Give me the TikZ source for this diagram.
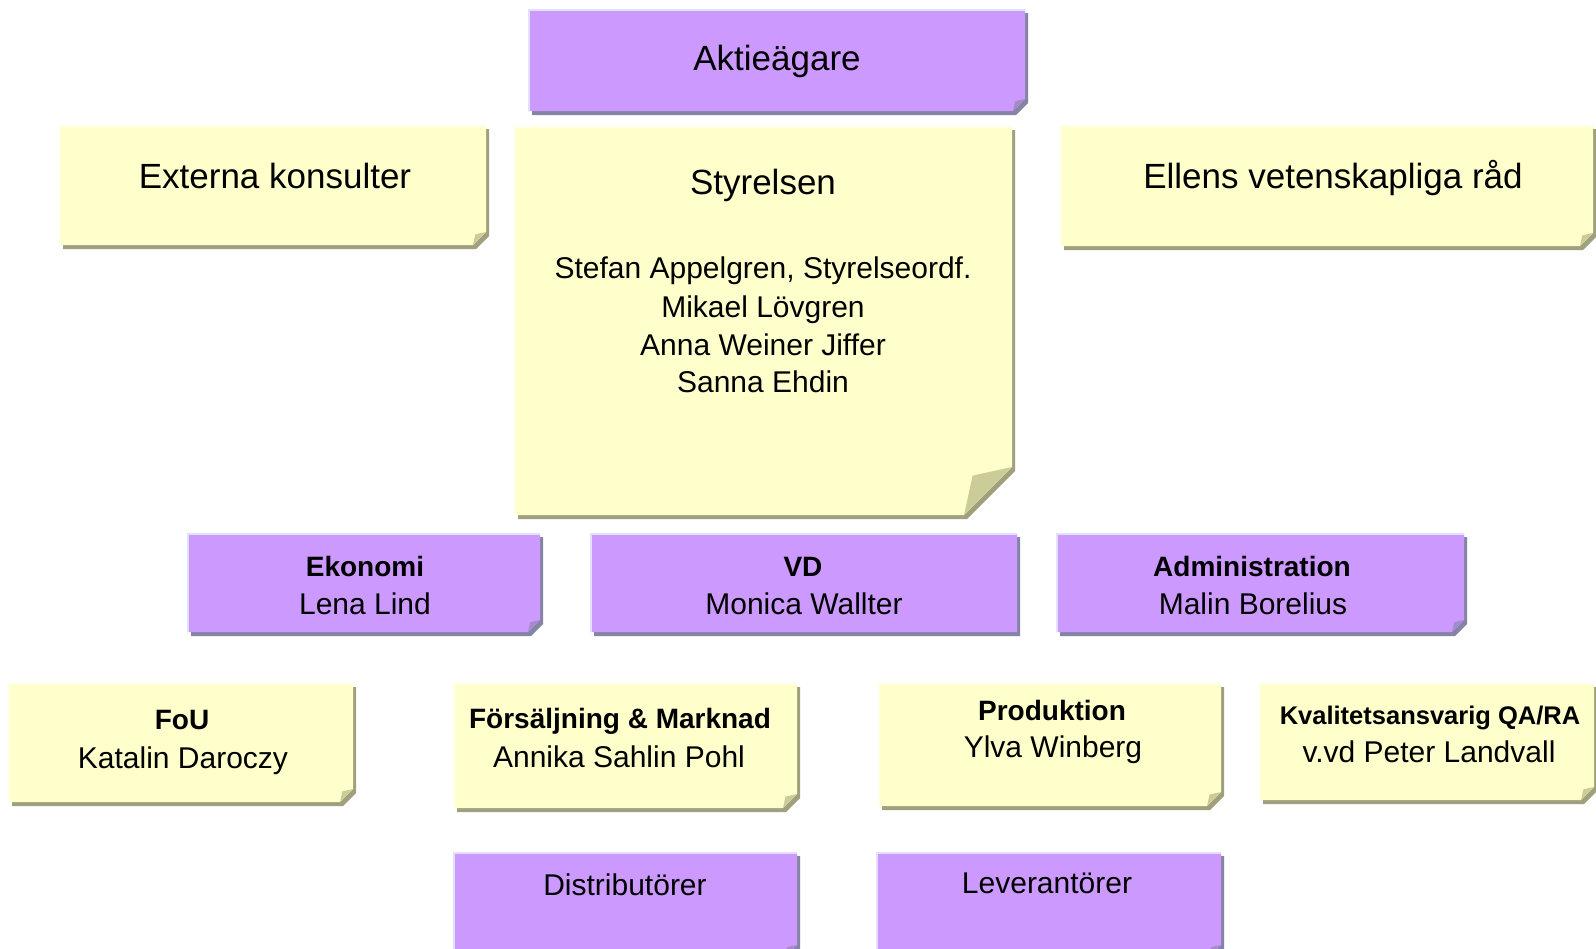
\documentclass[tikz,border=0pt]{standalone}
\usepackage{fontspec}
\setmainfont{Liberation Sans}
\definecolor{pfill}{HTML}{CC99FF}
\definecolor{pshadow}{HTML}{8484A4}
\definecolor{pfold}{HTML}{A58CC8}
\definecolor{pedge}{HTML}{E2E0FF}
\definecolor{yfill}{HTML}{FFFFCC}
\definecolor{yshadow}{HTML}{A0A07E}
\definecolor{yfold}{HTML}{CCCC99}
\definecolor{yedge}{HTML}{FFFFE6}
\newcommand\fsz[1]{\fontsize{#1}{#1}\selectfont}
% #1 x1, #2 y1, #3 x2, #4 y2, #5 fold size, #6 fill, #7 shadow, #8 fold colour, #9 edge colour
\newcommand\notebox[9]{%
  \fill[#7] (#1+4,#2+4) -- (#3+3,#2+4) -- (#3+3,#4+4-#5) -- (#3+3-#5,#4+4) -- (#1+4,#4+4) -- cycle;
  \fill[#6] (#1,#2) -- (#3,#2) -- (#3,#4-#5) -- (#3-#5,#4) -- (#1,#4) -- cycle;
  \fill[#8] (#3,#4-#5) -- (#3-#5,#4) -- (#3-0.82*#5,#4-0.82*#5) -- cycle;
  \draw[#9, line width=2.5] (#1+1,#4) -- (#1+1,#2+1) -- (#3,#2+1);
}
\tikzset{
  txt/.style={anchor=base, inner sep=0pt, outer sep=0pt, text=black},
  big/.style={txt, font=\fsz{35}},
  mid/.style={txt, font=\fsz{30}},
  hd/.style={txt, font=\fsz{28}\bfseries},
}
\begin{document}
\begin{tikzpicture}[x=1pt, y=-1pt]
\useasboundingbox (0,0) rectangle (1596,948);
\clip (0,0) rectangle (1596,948);
\fill[white] (0,0) rectangle (1596,948);
% purple boxes
\notebox{528}{9}{1025}{111}{12}{pfill}{pshadow}{pfold}{pedge}
\notebox{187}{533}{540}{632}{12}{pfill}{pshadow}{pfold}{pedge}
\notebox{590}{533}{1017}{632}{0}{pfill}{pshadow}{pfold}{pedge}
\notebox{1056}{533}{1464}{632}{12}{pfill}{pshadow}{pfold}{pedge}
\notebox{453}{852}{797}{957}{12}{pfill}{pshadow}{pfold}{pedge}
\notebox{876}{852}{1221}{957}{12}{pfill}{pshadow}{pfold}{pedge}
% yellow boxes
\notebox{59}{125}{486}{245}{13}{yfill}{yshadow}{yfold}{yedge}
\notebox{514}{126}{1012}{515}{48}{yfill}{yshadow}{yfold}{yedge}
\notebox{1060}{125}{1593}{246}{13}{yfill}{yshadow}{yfold}{yedge}
\notebox{8}{683}{353}{802}{13}{yfill}{yshadow}{yfold}{yedge}
\notebox{453}{683}{797}{808}{14}{yfill}{yshadow}{yfold}{yedge}
\notebox{878}{683}{1221}{806}{14}{yfill}{yshadow}{yfold}{yedge}
\notebox{1259}{683}{1594}{800}{13}{yfill}{yshadow}{yfold}{yedge}
% texts
\node[big] (aktie) at (777,70) {Aktieägare};
\node[big] (externa) at (275,188) {Externa konsulter};
\node[big] (styr) at (763,194) {Styrelsen};
\node[mid] (styr1) at (763,278) {Stefan Appelgren, Styrelseordf.};
\node[mid] (styr2) at (763,317) {Mikael Lövgren};
\node[mid] (styr3) at (763,355) {Anna Weiner Jiffer};
\node[mid] (styr4) at (763,392) {Sanna Ehdin};
\node[big] (ellens) at (1333,188) {Ellens vetenskapliga råd};
\node[hd] (ek) at (365,576) {Ekonomi};
\node[mid] (ek2) at (365,614) {Lena Lind};
\node[hd] (vd) at (803,576) {VD};
\node[mid] (vd2) at (804,614) {Monica Wallter};
\node[hd] (adm) at (1252,576) {Administration};
\node[mid] (adm2) at (1253,614) {Malin Borelius};
\node[hd] (fou) at (182,729) {FoU};
\node[mid] (fou2) at (183,768) {Katalin Daroczy};
\node[hd] (fm) at (620,728) {Försäljning \& Marknad};
\node[mid] (fm2) at (619,767) {Annika Sahlin Pohl};
\node[hd] (prod) at (1052,720) {Produktion};
\node[mid] (prod2) at (1053,757) {Ylva Winberg};
\node[txt, font=\fsz{25.5}\bfseries] (kval) at (1430,724) {Kvalitetsansvarig QA/RA};
\node[mid] (kval2) at (1429,762) {v.vd Peter Landvall};
\node[mid] (dist) at (625,895) {Distributörer};
\node[mid] (lev) at (1047,893) {Leverantörer};
\end{tikzpicture}
\end{document}
